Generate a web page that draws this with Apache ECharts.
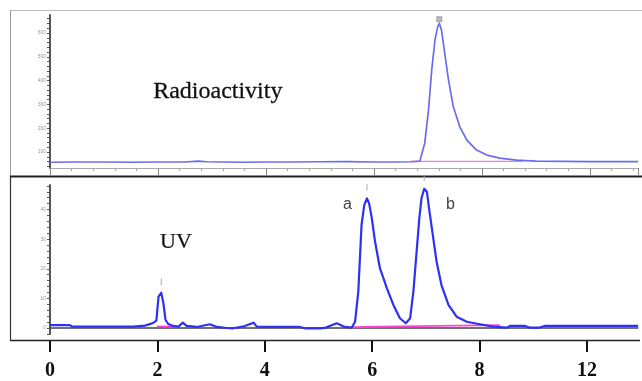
<!DOCTYPE html>
<html><head><meta charset="utf-8">
<script src="https://cdn.jsdelivr.net/npm/echarts@6/dist/echarts.min.js"></script>
<style>html,body{margin:0;padding:0;background:#fff}#c{width:642px;height:381px}</style>
</head><body><div id="c"></div>
<script>
// ---- Data ----
// Radioactivity trace: time (min) and detector response
const radioTime = [0, 0.5, 1.0, 1.5, 2.0, 2.5, 2.75, 2.9, 3.2, 3.6, 4.0, 4.5, 5.0, 5.5, 6.0, 6.4, 6.7, 6.85, 6.94, 7.01, 7.07, 7.13, 7.18, 7.21, 7.25, 7.31, 7.38, 7.47, 7.59, 7.72, 7.90, 8.09, 8.33, 8.64, 9.0, 9.5, 10.0, 10.5, 10.89];
const radioVal  = [57, 58, 58, 57, 58, 58, 62, 59, 58, 57, 58, 58, 59, 60, 58, 58, 59, 62, 137, 276, 445, 571, 626, 641, 613, 515, 403, 290, 206, 150, 108, 87, 74, 66, 62, 61, 60, 60, 60];
// UV trace: time (min) and absorbance
const uvTime = [0, 0.37, 0.41, 1.54, 1.76, 1.91, 1.97, 2.01, 2.06, 2.10, 2.14, 2.19, 2.28, 2.38, 2.46, 2.53, 2.72, 2.96, 3.09, 3.27, 3.39, 3.57, 3.77, 3.83, 4.01, 4.63, 4.72, 5.0, 5.11, 5.31, 5.46, 5.59, 5.65, 5.71, 5.74, 5.77, 5.82, 5.87, 5.91, 5.96, 6.02, 6.11, 6.24, 6.36, 6.48, 6.59, 6.67, 6.73, 6.79, 6.84, 6.88, 6.93, 6.98, 7.02, 7.09, 7.16, 7.25, 7.38, 7.53, 7.72, 7.96, 8.21, 8.46, 8.52, 8.80, 8.89, 9.07, 9.17, 10.89];
const uvVal  = [1.0, 1.0, 0.45, 0.45, 0.8, 1.7, 2.5, 10.6, 11.9, 8.4, 2.7, 1.35, 0.7, 0.45, 1.8, 0.7, 0.35, 1.25, 0.35, 0.0, -0.1, 0.45, 1.8, 0.45, 0.35, 0.35, -0.1, -0.1, 0.15, 1.6, 0.35, 0.15, 2.1, 12.3, 23.6, 34.8, 41.5, 43.8, 42.1, 37.1, 29.2, 20.2, 13.4, 7.8, 3.3, 1.6, 3.3, 12.3, 25.8, 37.1, 43.8, 47.0, 46.0, 40.4, 31.4, 22.4, 14.5, 7.8, 3.8, 2.1, 1.25, 0.45, 0.1, 0.7, 0.7, 0.1, 0.15, 0.7, 0.7];
// Integration baselines (pink)
const radioBaseTime = [6.67, 8.76];
const radioBaseVal  = [61, 61];
const uvBase1Time = [1.98, 2.35];
const uvBase1Val  = [0.6, 0.5];
const uvBase2Time = [5.61, 6.05, 8.33];
const uvBase2Val  = [0.25, 0.45, 1.0];
// Peak markers
const uvPeakTime = [2.06, 5.87, 6.93];
const uvPeakVal  = [11.9, 43.8, 47.0];
const radioPeakTime = [7.21];
const radioPeakVal  = [641];
// Axis tick labels
const radioYTicks = [100, 200, 300, 400, 500, 600];
const uvYTicks = [0, 10, 20, 30, 40];
const timeLabels = ['0', '2', '4', '6', '8', '12'];

const zip = (a, b) => a.map((x, i) => [x, b[i]]);
const range = (s, e, st) => { const r = []; for (let v = s; v <= e + 1e-9; v += st) r.push(+v.toFixed(3)); return r; };

const chart = echarts.init(document.getElementById('c'), null, {renderer: 'canvas'});
const smallLabel = {fontSize: 5, color: '#999', margin: 4};
const yRuler = (min, max, ticks, minors) => ({
  type: 'value', min: min, max: max, splitLine: {show: false},
  axisLine: {show: true, lineStyle: {color: '#555', width: 2}},
  axisTick: {show: true, length: 3, lineStyle: {color: '#555', width: 1}, customValues: minors},
  axisLabel: Object.assign({customValues: ticks}, smallLabel)
});

chart.setOption({
  animation: false,
  backgroundColor: '#fff',
  grid: [
    {left: 50, top: 15, width: 588, height: 153},
    {left: 50, top: 185, width: 588, height: 149},
    {left: 50, top: 330, width: 537, height: 11}
  ],
  xAxis: [
    {gridIndex: 0, type: 'value', min: 0, max: 10.89, interval: 2,
      axisLine: {lineStyle: {color: '#aaa', width: 1}},
      axisTick: {length: 8, lineStyle: {color: '#888'}},
      minorTick: {show: true, splitNumber: 5, length: 3, lineStyle: {color: '#aaa'}},
      axisLabel: {show: false}, splitLine: {show: false}},
    {gridIndex: 1, type: 'value', min: 0, max: 10.89, interval: 2,
      axisLine: {lineStyle: {color: '#444', width: 1.5}},
      axisTick: {show: false}, axisLabel: {show: false}, splitLine: {show: false}},
    {gridIndex: 2, type: 'category', boundaryGap: false, data: timeLabels,
      axisLine: {show: false},
      axisTick: {show: true, length: 11, lineStyle: {color: '#111', width: 2}},
      axisLabel: {margin: 20, fontFamily: 'Liberation Serif', fontWeight: 'bold', fontSize: 20, color: '#111'}}
  ],
  yAxis: [
    Object.assign({gridIndex: 0}, yRuler(32.8, 675.6, radioYTicks, range(40, 660, 20))),
    Object.assign({gridIndex: 1}, yRuler(-2.03, 48.3, uvYTicks, range(-2, 48, 2))),
    {gridIndex: 2, type: 'value', show: false}
  ],
  series: [
    {type: 'line', xAxisIndex: 0, yAxisIndex: 0, data: zip(radioBaseTime, radioBaseVal), showSymbol: false, silent: true,
      lineStyle: {color: '#ff77dd', width: 1.2}, z: 2},
    {type: 'line', xAxisIndex: 0, yAxisIndex: 0, data: zip(radioTime, radioVal), showSymbol: false,
      lineStyle: {color: '#6c6cf0', width: 1.7, join: 'round'}, z: 3,
      markPoint: {symbol: 'rect', symbolSize: [5, 5], symbolOffset: [0, -4], silent: true,
        itemStyle: {color: '#bbb', borderColor: '#666', borderWidth: 0.5}, label: {show: false},
        data: radioPeakTime.map((t, i) => ({coord: [t, radioPeakVal[i]]}))}},
    {type: 'line', xAxisIndex: 1, yAxisIndex: 1, data: zip(uvBase1Time, uvBase1Val), showSymbol: false,
      lineStyle: {color: '#ff44dd', width: 1.5}, z: 2},
    {type: 'line', xAxisIndex: 1, yAxisIndex: 1, data: zip(uvBase2Time, uvBase2Val), showSymbol: false,
      lineStyle: {color: '#ff44dd', width: 1.8}, z: 2},
    {type: 'line', xAxisIndex: 1, yAxisIndex: 1, data: zip(uvTime, uvVal), showSymbol: false,
      lineStyle: {color: '#2f2ff5', width: 2.2, join: 'round'}, z: 3,
      markPoint: {symbol: 'rect', symbolSize: [1, 7], symbolOffset: [0, -11], silent: true,
        itemStyle: {color: '#aaa'}, label: {show: false},
        data: uvPeakTime.map((t, i) => ({coord: [t, uvPeakVal[i]]}))}},
    {type: 'line', xAxisIndex: 2, yAxisIndex: 2, data: [], showSymbol: false}
  ],
  graphic: [
    {type: 'line', shape: {x1: 10, y1: 10.5, x2: 642, y2: 10.5}, style: {stroke: '#bbb', lineWidth: 1}, silent: true},
    {type: 'line', shape: {x1: 10.5, y1: 10, x2: 10.5, y2: 176}, style: {stroke: '#999', lineWidth: 1}, silent: true},
    {type: 'line', shape: {x1: 10.5, y1: 176, x2: 10.5, y2: 341}, style: {stroke: '#333', lineWidth: 1.2}, silent: true},
    {type: 'line', shape: {x1: 10, y1: 176.5, x2: 642, y2: 176.5}, style: {stroke: '#222', lineWidth: 2}, silent: true},
    {type: 'line', shape: {x1: 10, y1: 340.5, x2: 640, y2: 340.5}, style: {stroke: '#222', lineWidth: 1.6}, silent: true},
    {type: 'text', left: 153, top: 80, style: {text: 'Radioactivity', font: '24px "Liberation Serif"', fill: '#111', stroke: '#111', lineWidth: 0.3}, silent: true},
    {type: 'text', left: 160, top: 231, style: {text: 'UV', font: '22px "Liberation Serif"', fill: '#111', stroke: '#111', lineWidth: 0.2}, silent: true},
    {type: 'text', left: 343, top: 197, style: {text: 'a', font: '16px "Liberation Sans"', fill: '#444'}, silent: true},
    {type: 'text', left: 446, top: 197, style: {text: 'b', font: '16px "Liberation Sans"', fill: '#444'}, silent: true}
  ]
});
</script></body></html>
